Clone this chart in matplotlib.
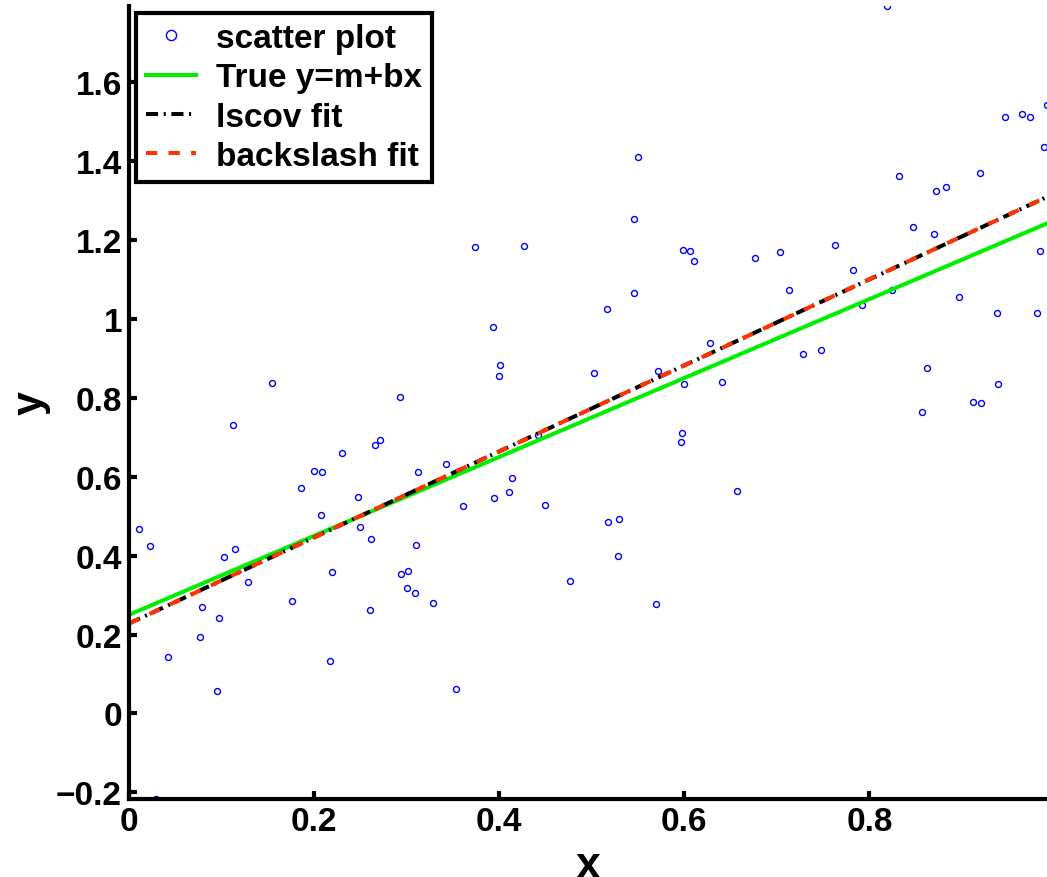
import matplotlib
matplotlib.use("Agg")
import matplotlib.pyplot as plt
import numpy as np
from matplotlib.ticker import FuncFormatter

# scatter data
x_pts = [0.0105, 0.023, 0.042, 0.077, 0.079, 0.095, 0.097, 0.103, 0.115, 0.129,
         0.176, 0.186, 0.200, 0.209, 0.207, 0.219, 0.217, 0.230, 0.029, 0.112,
         0.155, 0.546, 0.374, 0.427, 0.599, 0.606, 0.546, 0.517, 0.393, 0.401,
         0.400, 0.502, 0.572, 0.600, 0.293, 0.266, 0.271, 0.442, 0.598, 0.596,
         0.312, 0.343, 0.414, 0.411, 0.248, 0.394, 0.361, 0.450, 0.518, 0.530,
         0.528, 0.250, 0.262, 0.310, 0.294, 0.302, 0.300, 0.309, 0.328, 0.260,
         0.477, 0.569, 0.353, 0.819, 0.947, 0.965, 0.974, 0.992, 0.989, 0.832,
         0.872, 0.883, 0.920, 0.847, 0.870, 0.763, 0.703, 0.676, 0.611, 0.782,
         0.713, 0.824, 0.792, 0.897, 0.938, 0.981, 0.984, 0.628, 0.728, 0.748,
         0.641, 0.862, 0.939, 0.912, 0.921, 0.857, 0.657, 0.550]
y_pts = [0.468, 0.425, 0.142, 0.193, 0.270, 0.056, 0.241, 0.397, 0.416, 0.332,
         0.284, 0.572, 0.614, 0.613, 0.502, 0.359, 0.133, 0.661, -0.217, 0.731,
         0.838, 1.252, 1.183, 1.186, 1.175, 1.171, 1.065, 1.024, 0.979, 0.884,
         0.856, 0.863, 0.869, 0.835, 0.802, 0.681, 0.693, 0.706, 0.712, 0.688,
         0.613, 0.633, 0.597, 0.560, 0.549, 0.547, 0.527, 0.528, 0.484, 0.493,
         0.398, 0.473, 0.442, 0.426, 0.353, 0.361, 0.318, 0.306, 0.281, 0.261,
         0.336, 0.277, 0.062, 1.793, 1.511, 1.519, 1.511, 1.543, 1.435, 1.361,
         1.324, 1.334, 1.371, 1.233, 1.214, 1.187, 1.170, 1.155, 1.147, 1.125,
         1.073, 1.073, 1.036, 1.055, 1.016, 1.016, 1.173, 0.938, 0.910, 0.922,
         0.841, 0.876, 0.836, 0.790, 0.786, 0.763, 0.563, 1.411]

# line parameters (intercept m, slope b)
true_m, true_b = 0.25, 1.0
fit_m, fit_b = 0.228, 1.09

labels = ["scatter plot", "True y=m+bx", "lscov fit", "backslash fit"]

plt.rcParams['font.family'] = ['Liberation Sans', 'DejaVu Sans']
plt.rcParams['font.weight'] = 'bold'

x = np.array(x_pts)
y = np.array(y_pts)
xl = np.array([0, x.max()])

fig = plt.figure(figsize=(10.47, 8.78), dpi=100)
ax = fig.add_axes([0.1232, 0.0888, 0.8768, 0.9032])

ax.plot(x, y, ls='none', marker='o', ms=4.3, mfc='none', mec='#0000ff',
        mew=1.0, label=labels[0])
ax.plot(xl, true_m + true_b * xl, color='#00ee00', lw=2.9, label=labels[1])
ax.plot(xl, fit_m + fit_b * xl, color='black', lw=2.9,
        ls=(0, (3.0, 1.4, 0.5, 1.4)), label=labels[2])
ax.plot(xl, fit_m + fit_b * xl, color='#ff3300', lw=2.9,
        ls=(0, (2.8, 2.8)), label=labels[3])

ax.set_xlim(0, x.max())
ax.set_ylim(y.min(), y.max())
ax.set_xticks(np.arange(0, 0.81, 0.2))
ax.set_yticks(np.arange(-0.2, 1.61, 0.2))
fmt = FuncFormatter(lambda v, p: f"{v:g}".replace('-', '\u2212') if abs(v) > 1e-9 else "0")
ax.xaxis.set_major_formatter(fmt)
ax.yaxis.set_major_formatter(fmt)

for s in ['top', 'right']:
    ax.spines[s].set_visible(False)
for s in ['left', 'bottom']:
    ax.spines[s].set_linewidth(3.0)
ax.tick_params(direction='in', length=6, width=3.0, labelsize=24, pad=5)

ax.set_xlabel("x", fontsize=32, fontweight='bold', labelpad=6)
ax.set_ylabel("y", fontsize=31, fontweight='bold', labelpad=4)

leg = ax.legend(loc='upper left', bbox_to_anchor=(0.0076, 0.991),
                borderaxespad=0, fontsize=24, fancybox=False, framealpha=1,
                edgecolor='black', handlelength=1.5, handletextpad=0.6,
                labelspacing=0.25, borderpad=0.3, markerscale=1.7)
leg.get_frame().set_linewidth(3.0)

plt.savefig("out.png", dpi=100)
plt.close()
